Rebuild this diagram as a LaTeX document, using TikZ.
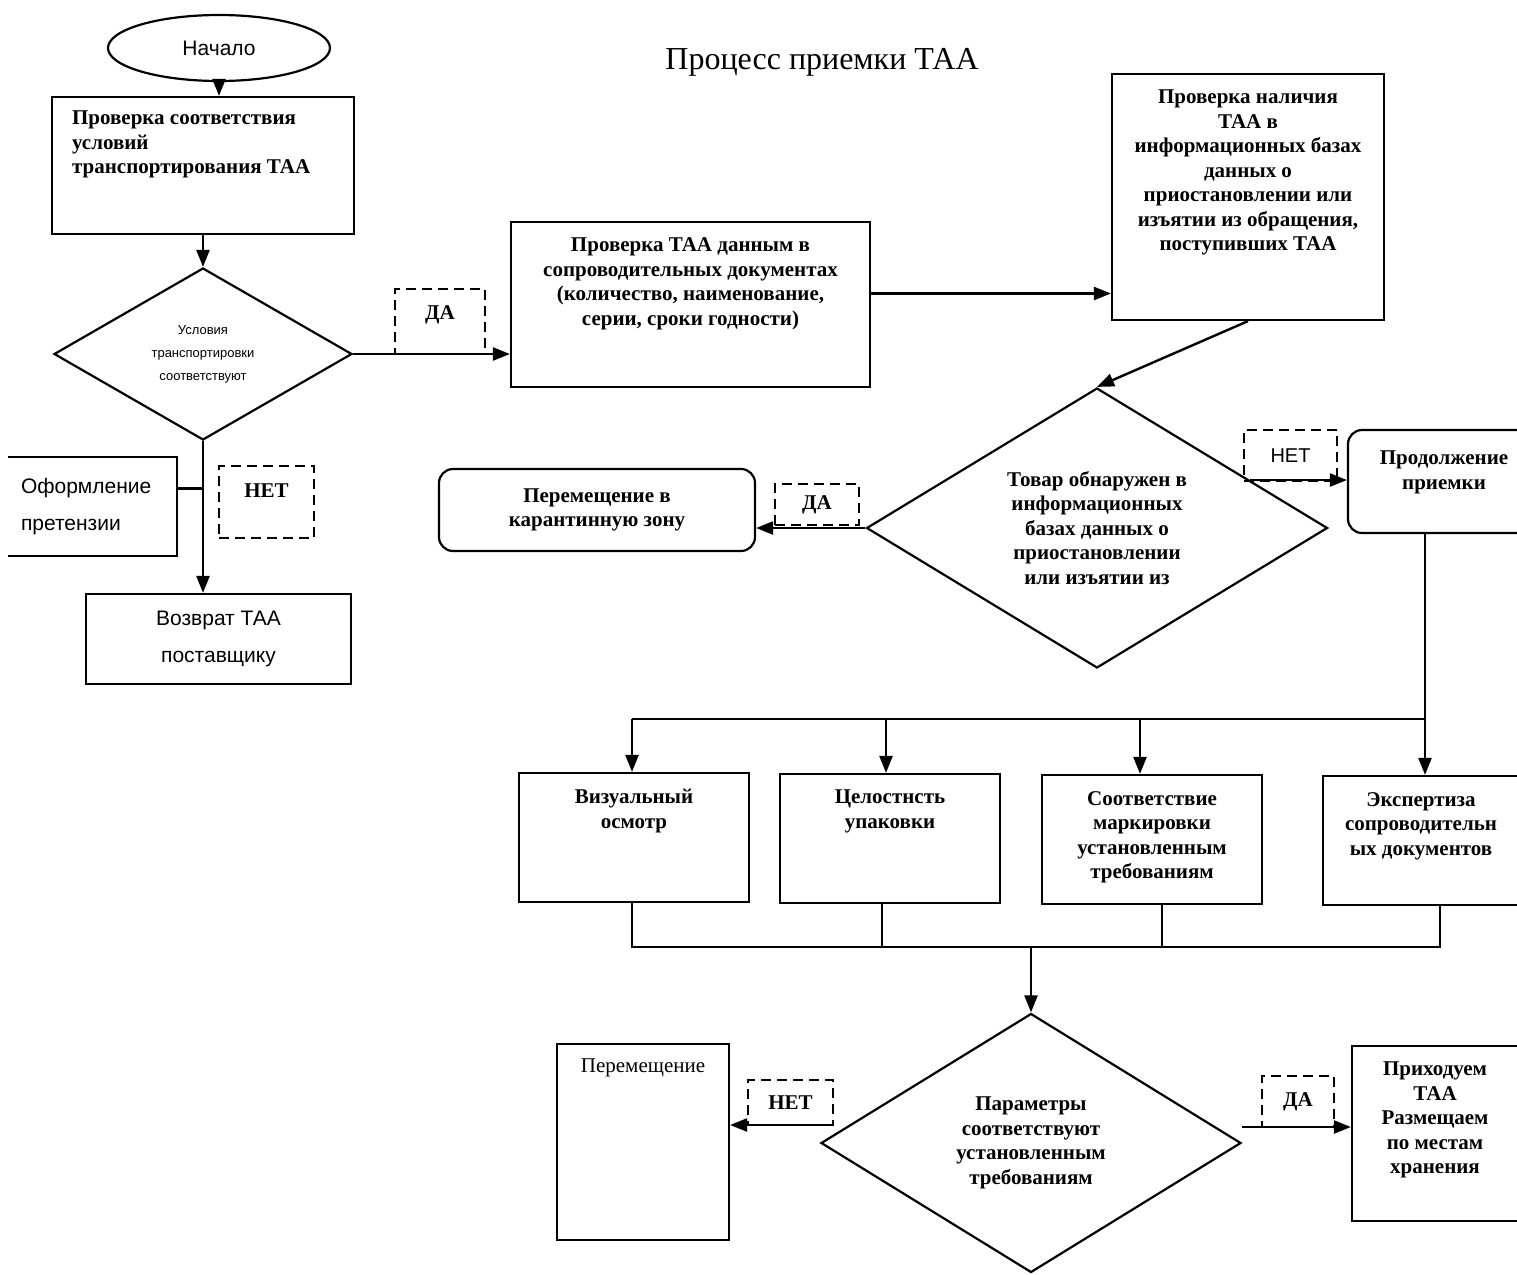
\documentclass[tikz,border=0pt]{standalone}
\usepackage{fontspec}
\setmainfont{Liberation Serif}
\setsansfont{Liberation Sans}
\usetikzlibrary{shapes.geometric,arrows.meta,positioning,calc}
\tikzset{
  box/.style={draw,line width=2.2pt,inner sep=0pt},
  rbox/.style={box,rounded corners=14pt},
  dbox/.style={draw,line width=2.2pt,dash pattern=on 10pt off 6pt,inner sep=0pt},
  dia/.style={draw,diamond,line width=2.2pt,inner sep=0pt,align=center},
  btxt/.style={font=\bfseries\fontsize{21}{24.5}\selectfont,align=center,inner sep=0pt},
  rtxt/.style={font=\fontsize{21}{24.5}\selectfont,align=center,inner sep=0pt},
  stxt/.style={font=\sffamily\fontsize{21}{37}\selectfont,inner sep=0pt},
  arr/.style={line width=2.4pt,-{Triangle[length=17pt,width=13pt]}},
  ln/.style={line width=2.2pt}
}
\begin{document}
\begin{tikzpicture}[x=1pt,y=-1pt]
\clip (0,0) rectangle (1517,1274);
\fill[white] (0,0) rectangle (1517,1274);

\node[font=\fontsize{32}{38}\selectfont] (title) at (822,62) {Процесс приемки ТАА};

% left column
\node[draw,ellipse,line width=2.2pt,minimum width=222pt,minimum height=66pt,font=\sffamily\fontsize{21}{25}\selectfont] (start) at (219,48) {Начало};
\node[box,minimum width=302pt,minimum height=137pt] (chk) at (203,165.5) {};
\node[btxt,align=left,below right=15pt and 21pt of chk.north west] (chkT) {Проверка соответствия\\условий\\транспортирования ТАА};
\node[dia,minimum width=298pt,minimum height=172pt,aspect=1.73,font=\sffamily\fontsize{13}{23}\selectfont] (d1) at (203,354) {Условия\\транспортировки\\соответствуют};
\node[dbox,minimum width=90pt,minimum height=65pt,font=\bfseries\fontsize{21}{25}\selectfont,text depth=17pt] (yes1) at (440,321.5) {ДА};
\node[dbox,minimum width=95pt,minimum height=72pt,font=\bfseries\fontsize{21}{25}\selectfont,text depth=22pt] (no1) at (266.5,502) {НЕТ};
\node[stxt,align=left,text width=143pt,inner xsep=13pt,minimum height=99pt] (claim) at (92.5,506.5) {Оформление\\претензии};
\draw[ln] (claim.north west) -| (claim.south east) -- (claim.south west);
\node[box,stxt,align=center,minimum width=265pt,minimum height=90pt] (ret) at (218.5,639) {Возврат ТАА\\поставщику};

% upper right
\node[box,minimum width=359pt,minimum height=165pt] (chkdoc) at (690.5,304.5) {};
\node[btxt,below=17pt of chkdoc.north] (chkdocT) {Проверка ТАА данным в\\сопроводительных документах\\(количество, наименование,\\серии, сроки годности)};
\node[box,minimum width=272pt,minimum height=246pt] (chkdb) at (1248,197) {};
\node[btxt,below=17pt of chkdb.north] (chkdbT) {Проверка наличия\\ТАА в\\информационных базах\\данных о\\приостановлении или\\изъятии из обращения,\\поступивших ТАА};
\node[dia,minimum width=461pt,minimum height=280pt,aspect=1.65,btxt] (d2) at (1097,528) {Товар обнаружен в\\информационных\\базах данных о\\приостановлении\\или изъятии из};
\node[rbox,btxt,minimum width=316pt,minimum height=82pt] (quar) at (597,510) {Перемещение в\\карантинную зону};
\node[dbox,minimum width=84pt,minimum height=41pt,font=\bfseries\fontsize{21}{25}\selectfont] (yes2) at (817,504.5) {ДА};
\node[rbox,minimum width=192pt,minimum height=103pt] (cont) at (1444,481.5) {};
\node[btxt,below=22pt of cont.north] (contT) {Продолжение\\приемки};
\node[dbox,minimum width=93pt,minimum height=51pt,font=\sffamily\fontsize{20}{24}\selectfont] (no2) at (1290.5,455.5) {НЕТ};

% checks
\node[box,minimum width=230pt,minimum height=129pt] (vis) at (634,837.5) {};
\node[btxt,below=17pt of vis.north] (visT) {Визуальный\\осмотр};
\node[box,minimum width=220pt,minimum height=129pt] (pack) at (890,838.5) {};
\node[btxt,below=17pt of pack.north] (packT) {Целостнсть\\упаковки};
\node[box,minimum width=220pt,minimum height=129pt] (mark) at (1152,839.5) {};
\node[btxt,below=17pt of mark.north] (markT) {Соответствие\\маркировки\\установленным\\требованиям};
\node[box,minimum width=196pt,minimum height=129pt] (exp) at (1421,840.5) {};
\node[btxt,below=17pt of exp.north] (expT) {Экспертиза\\сопроводительн\\ых документов};

% bottom
\node[dia,minimum width=420pt,minimum height=259pt,aspect=1.62,btxt] (d3) at (1031,1143) {Параметры\\соответствуют\\установленным\\требованиям};
\node[box,minimum width=172pt,minimum height=196pt] (move) at (643,1142) {};
\node[rtxt,below=16pt of move.north] (moveT) {Перемещение};
\node[dbox,minimum width=85pt,minimum height=45pt,font=\bfseries\fontsize{21}{25}\selectfont] (no3) at (790.5,1102.5) {НЕТ};
\node[box,minimum width=166pt,minimum height=175pt] (prih) at (1435,1133.5) {};
\node[btxt,below=17pt of prih.north] (prihT) {Приходуем\\ТАА\\Размещаем\\по местам\\хранения};
\node[dbox,minimum width=72pt,minimum height=51pt,font=\bfseries\fontsize{21}{25}\selectfont] (yes3) at (1298,1101.5) {ДА};

% connectors
\draw[arr] (start.south) -- (start.south |- chk.north);
\draw[arr] (chk.south) -- (d1.north);
\draw[arr] (d1.east) -- (d1.east -| chkdoc.west);
\draw[arr] (d1.south) -- (d1.south |- ret.north);
\draw[ln] ([yshift=18pt]claim.east) -- ([yshift=18pt]claim.east -| d1.south);
\draw[arr] ([yshift=11pt]chkdoc.east) -- ([yshift=11pt]chkdoc.east -| chkdb.west);
\draw[arr] (chkdb.south) -- (d2.north);
\draw[arr] (d2.west) -- (d2.west -| quar.east);
\coordinate (d2ne) at ($(d2.north)!.66!(d2.east)$);
\draw[arr] (d2ne) -- (d2ne -| cont.west);

\coordinate (b1) at (632,719);
\coordinate (b2) at (886,719);
\coordinate (b3) at (1140,719);
\coordinate (b4) at (1425,719);
\draw[ln] (b4 |- cont.south) -- (b4) -- (b1);
\foreach \b/\n in {b1/vis,b2/pack,b3/mark,b4/exp}
  \draw[arr] (\b) -- (\b |- \n.north);

\coordinate (c1) at (632,947);
\coordinate (c2) at (882,947);
\coordinate (c3) at (1162,947);
\coordinate (c4) at (1440,947);
\coordinate (cm) at (1031,947);
\draw[ln] (c1 |- vis.south) -- (c1) -- (c4) -- (c4 |- exp.south);
\draw[ln] (c2) -- (c2 |- pack.south);
\draw[ln] (c3) -- (c3 |- mark.south);
\draw[arr] (cm) -- (d3.north);

\coordinate (d3l) at ($(d3.west)+(8,-18)$);
\coordinate (d3r) at ($(d3.east)+(0,-16)$);
\draw[arr] (d3l) -- (d3l -| move.east);
\draw[arr] (d3r) -- (d3r -| prih.west);
\end{tikzpicture}
\end{document}
